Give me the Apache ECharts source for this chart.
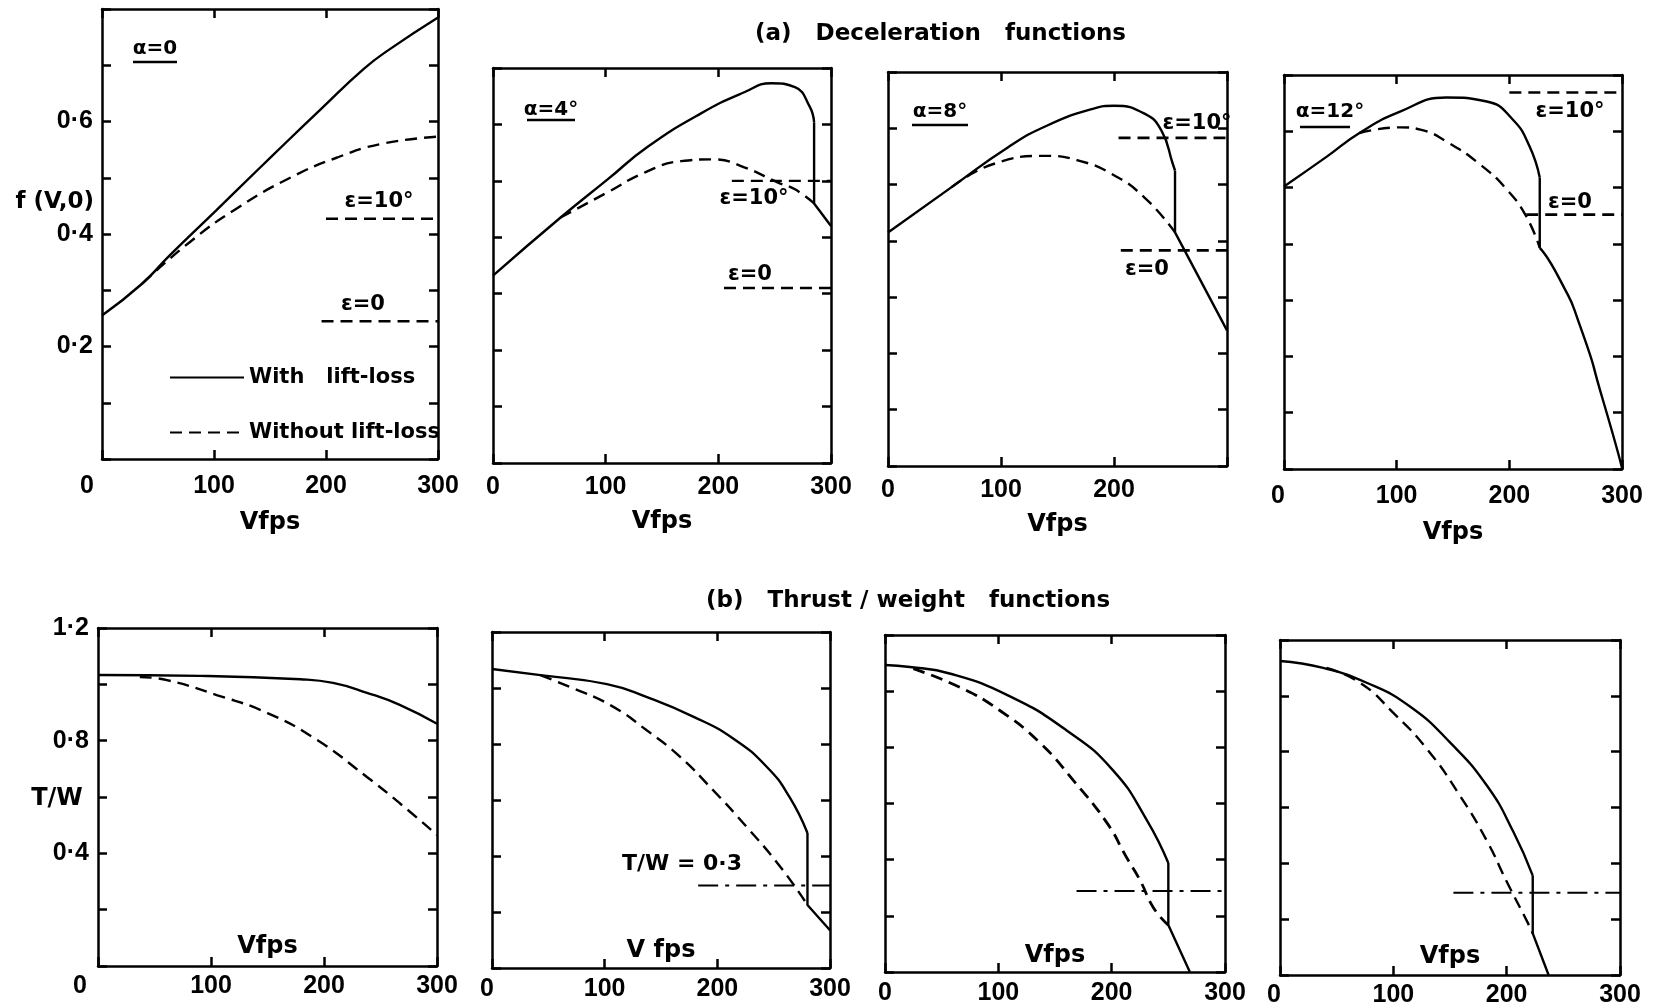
<!DOCTYPE html>
<html><head><meta charset="utf-8">
<script src="https://cdn.jsdelivr.net/npm/echarts@6/dist/echarts.min.js"></script>
<style>html,body{margin:0;padding:0;background:#fff}#c{width:1657px;height:1008px}</style>
</head><body><div id="c"></div>
<script>
// ---------------- data ----------------
// (a) Deceleration functions f(V,0) vs V (fps)
const a0Solid   = [[0,0.255],[36,0.312],[60,0.361],[102,0.442],[138,0.512],[165,0.564],[195,0.621],[234,0.694],[258,0.73],[300,0.785]];
const a0Dashed  = [[36,0.312],[78,0.385],[120,0.445],[168,0.50],[210,0.536],[249,0.56],[300,0.573]];
const a0Eps10   = [[200,0.427],[300,0.427]];
const a0Eps0    = [[196,0.245],[300,0.245]];

const a4Solid     = [[0,0.332],[60,0.435],[102,0.503],[137,0.56],[185,0.62],[223,0.657],[247,0.673],[268,0.666],[281,0.632],[285,0.604]];
const a4SolidTail = [[285,0.604],[285,0.46],[300,0.42]];
const a4Dashed    = [[60,0.435],[102,0.48],[135,0.515],[167,0.535],[196,0.538],[223,0.524],[253,0.497],[268,0.485],[285,0.46]];
const a4Eps10     = [[212,0.50],[300,0.50]];
const a4Eps0      = [[205,0.31],[300,0.31]];

const a8Solid     = [[0,0.415],[56,0.495],[106,0.566],[141,0.605],[182,0.635],[200,0.64],[227,0.626],[242,0.596],[252,0.537],[254,0.525]];
const a8SolidTail = [[254,0.525],[254,0.415],[300,0.241]];
const a8Dashed    = [[56,0.495],[94,0.537],[141,0.551],[168,0.543],[197,0.52],[227,0.477],[254,0.415]];
const a8Eps10     = [[204,0.583],[300,0.583]];
const a8Eps0      = [[206,0.383],[300,0.383]];

const a12Solid     = [[0,0.502],[38,0.555],[67,0.597],[103,0.635],[144,0.66],[180,0.653],[203,0.621],[218,0.573],[227,0.518]];
const a12SolidDrop = [[227,0.518],[227,0.393]];
const a12SolidTail = [[227,0.393],[245,0.336],[263,0.253],[283,0.123],[300,0.002]];
const a12Dashed    = [[67,0.597],[103,0.607],[121,0.603],[144,0.582],[174,0.541],[198,0.496],[215,0.449],[227,0.393]];
const a12Eps10     = [[200,0.669],[300,0.669]];
const a12Eps0      = [[215,0.452],[300,0.452]];

// (b) Thrust/weight functions T/W vs V (fps)
const tw0Solid  = [[0,1.033],[90,1.03],[179,1.018],[208,1.005],[238,0.97],[267,0.927],[300,0.86]];
const tw0Dashed = [[37,1.026],[61,1.015],[105,0.962],[150,0.898],[194,0.802],[238,0.671],[267,0.578],[300,0.465]];

const tw4Solid     = [[0,1.068],[43,1.046],[102,1.014],[137,0.968],[179,0.897],[214,0.82],[244,0.718],[264,0.611],[280,0.482]];
const tw4SolidTail = [[280,0.482],[280,0.225],[300,0.135]];
const tw4Dashed    = [[43,1.046],[69,1.004],[105,0.939],[137,0.85],[167,0.754],[196,0.636],[226,0.504],[256,0.361],[280,0.225]];
const tw4Limit     = [[183,0.295],[300,0.295]];

const tw8Solid     = [[0,1.093],[22,1.086],[57,1.063],[108,0.986],[160,0.861],[201,0.719],[231,0.541],[250,0.388]];
const tw8SolidTail = [[250,0.388],[250,0.167],[269,0]];
const tw8Dashed    = [[25,1.08],[66,1.014],[101,0.932],[137,0.815],[166,0.683],[196,0.53],[213,0.409],[225,0.327],[237,0.228],[250,0.167]];
const tw8Limit     = [[169,0.288],[300,0.288]];

const tw12Solid     = [[0,1.125],[38,1.1],[77,1.046],[115,0.961],[150,0.833],[183,0.676],[206,0.512],[223,0.356]];
const tw12SolidTail = [[223,0.356],[223,0.149],[237,0]];
const tw12Dashed    = [[41,1.1],[71,1.046],[100,0.939],[130,0.808],[159,0.641],[183,0.477],[200,0.335],[218,0.192],[223,0.149]];
const tw12Limit     = [[153,0.295],[300,0.295]];

// tick labels
const xTickValues      = [0, 100, 200, 300];
const xTickLabels      = ['0', '100', '200', '300'];
const xTickLabelsNo300 = ['0', '100', '200', ''];
const yTopValues       = [0.2, 0.4, 0.6];
const yTopLabels       = ['0·2', '0·4', '0·6'];
const yBotValues       = [0.4, 0.8, 1.2];
const yBotLabels       = ['0·4', '0·8', '1·2'];
const legendNames      = ['With lift-loss', 'Without lift-loss'];

// ---------------- layout ----------------
const FONT_NUM = '"Liberation Sans", Arial, sans-serif';
const FONT_TXT = '"DejaVu Sans", sans-serif';
const BLACK = '#000';
const DASH = [12, 7];
const DASHDOT = [20, 7, 4, 7];

const panels = [
  {box:[102,9,336,450],  ymax:0.8, yint:0.1, yv:yTopValues, yl:yTopLabels, xl:xTickLabels, zero:15, xm:15, name:'Vfps', ng:52},
  {box:[493,68,338,395], ymax:0.7, yint:0.1, yv:[], yl:[], xl:xTickLabels, zero:0, xm:12, name:'Vfps', ng:47},
  {box:[888,72,339,394], ymax:0.7, yint:0.1, yv:[], yl:[], xl:xTickLabelsNo300, zero:0, xm:12, name:'Vfps', ng:47},
  {box:[1284,75,338,394],ymax:0.7, yint:0.1, yv:[], yl:[], xl:xTickLabels, zero:6, xm:15, name:'Vfps', ng:52},
  {box:[98,628,339,338], ymax:1.2, yint:0.2, yv:yBotValues, yl:yBotLabels, xl:xTickLabels, zero:18, xm:8, name:'Vfps', ng:-31},
  {box:[492,632,338,336],ymax:1.2, yint:0.2, yv:[], yl:[], xl:xTickLabels, zero:5, xm:9, name:'V fps', ng:-29},
  {box:[885,635,340,337],ymax:1.2, yint:0.2, yv:[], yl:[], xl:xTickLabels, zero:0, xm:9, name:'Vfps', ng:-28},
  {box:[1280,640,340,337],ymax:1.2, yint:0.2, yv:[], yl:[], xl:xTickLabels, zero:6, xm:8, name:'Vfps', ng:-30}
];

const grids = [], xAxes = [], yAxes = [];
panels.forEach((p, i) => {
  grids.push({left:p.box[0], top:p.box[1], width:p.box[2], height:p.box[3], containLabel:false, show:false});
  const line = {show:true, onZero:false, lineStyle:{color:BLACK, width:2.5}};
  const tick = {show:true, inside:true, length:9, lineStyle:{color:BLACK, width:2.5}};
  xAxes.push({
    type:'value', gridIndex:i, position:'bottom', min:0, max:300, interval:100,
    axisLine:line, axisTick:tick, splitLine:{show:false},
    axisLabel:{show:true, margin:p.xm, color:BLACK, fontFamily:FONT_NUM, fontSize:25, fontWeight:'bold',
      formatter:(v) => {
        const k = xTickValues.indexOf(Math.round(v));
        const s = k >= 0 ? p.xl[k] : '';
        if (s === '0' && p.zero) return '{z|0}';
        return s;
      },
      rich:{z:{fontFamily:FONT_NUM, fontSize:25, fontWeight:'bold', color:BLACK, padding:[0, 2*p.zero, 0, 0]}}
    },
    name:p.name, nameLocation:'middle', nameGap:p.ng,
    nameTextStyle:{color:BLACK, fontFamily:FONT_TXT, fontSize:24, fontWeight:'bold'}
  });
  xAxes.push({
    type:'value', gridIndex:i, position:'top', min:0, max:300, interval:100,
    axisLine:line, axisTick:tick, splitLine:{show:false}, axisLabel:{show:false}
  });
  yAxes.push({
    type:'value', gridIndex:i, position:'left', min:0, max:p.ymax, interval:p.yint,
    axisLine:line, axisTick:tick, splitLine:{show:false},
    axisLabel:{show:true, margin:9, color:BLACK, fontFamily:FONT_NUM, fontSize:25, fontWeight:'bold',
      formatter:(v) => {
        const k = p.yv.findIndex(t => Math.abs(t - v) < 1e-6);
        return k >= 0 ? p.yl[k] : '';
      }
    }
  });
  yAxes.push({
    type:'value', gridIndex:i, position:'right', min:0, max:p.ymax, interval:p.yint,
    axisLine:line, axisTick:tick, splitLine:{show:false}, axisLabel:{show:false}
  });
});

function ser(gi, data, dash, name, smooth, w) {
  return {
    type:'line', name:name, xAxisIndex:gi*2, yAxisIndex:gi*2, data:data,
    symbol:'none', showSymbol:false, smooth:smooth ? (smooth === true ? 0.5 : smooth) : false,
    lineStyle:{color:BLACK, width:w || 2.4, type:dash || 'solid'},
    itemStyle:{color:BLACK}, silent:true, z:3
  };
}
const W = legendNames[0], WO = legendNames[1];
const series = [
  ser(0, a0Solid, null, W, true), ser(0, a0Dashed, DASH, WO, true),
  ser(0, a0Eps10, DASH, 'eps10'), ser(0, a0Eps0, DASH, 'eps0'),

  ser(1, a4Solid, null, W, true), ser(1, a4SolidTail, null, W), ser(1, a4Dashed, DASH, WO, true),
  ser(1, a4Eps10, DASH, 'eps10'), ser(1, a4Eps0, DASH, 'eps0'),

  ser(2, a8Solid, null, W, true), ser(2, a8SolidTail, null, W), ser(2, a8Dashed, DASH, WO, true),
  ser(2, a8Eps10, DASH, 'eps10', false, 2.8), ser(2, a8Eps0, DASH, 'eps0', false, 2.8),

  ser(3, a12Solid, null, W, true), ser(3, a12SolidDrop, null, W), ser(3, a12SolidTail, null, W, 0.7),
  ser(3, a12Dashed, DASH, WO, true),
  ser(3, a12Eps10, DASH, 'eps10'), ser(3, a12Eps0, DASH, 'eps0', false, 2.8),

  ser(4, tw0Solid, null, W, true), ser(4, tw0Dashed, DASH, WO, true),

  ser(5, tw4Solid, null, W, true), ser(5, tw4SolidTail, null, W), ser(5, tw4Dashed, DASH, WO, true),
  ser(5, tw4Limit, DASHDOT, 'limit', false, 2),

  ser(6, tw8Solid, null, W, true), ser(6, tw8SolidTail, null, W), ser(6, tw8Dashed, DASH, WO, true, 2.8),
  ser(6, tw8Limit, DASHDOT, 'limit', false, 2),

  ser(7, tw12Solid, null, W, true), ser(7, tw12SolidTail, null, W), ser(7, tw12Dashed, DASH, WO, true),
  ser(7, tw12Limit, DASHDOT, 'limit', false, 2)
];

// ---------------- annotations ----------------
function txt(t, x, y, size, align) {
  return {type:'text', x:x, y:y, silent:true, z:10,
    style:{text:t, fill:BLACK, font:'bold ' + (size || 21) + 'px "DejaVu Sans", sans-serif',
      textAlign:align || 'center', textVerticalAlign:'middle', align:align || 'center', verticalAlign:'middle'}};
}
function ul(x1, x2, y) {
  return {type:'line', silent:true, z:10, shape:{x1:x1, y1:y, x2:x2, y2:y}, style:{stroke:BLACK, lineWidth:2.5}};
}
const graphics = [
  txt('α=0', 155, 49, 20), ul(133, 177, 62),
  txt('ε=10°', 379, 202), txt('ε=0', 363, 305),
  txt('f (V,0)', 94, 202, 23, 'right'),
  txt('α=4°', 551, 110, 20), ul(527, 575, 120),
  txt('ε=10°', 754, 199), txt('ε=0', 750, 275),
  txt('α=8°', 940, 112, 20), ul(912, 968, 125),
  txt('ε=10°', 1197, 124), txt('ε=0', 1147, 270),
  txt('α=12°', 1330, 112, 20), ul(1300, 1350, 127),
  txt('ε=10°', 1570, 112), txt('ε=0', 1570, 203),
  txt('T/W', 57, 799, 24),
  txt('T/W = 0·3', 682, 864, 22)
];

const chart = echarts.init(document.getElementById('c'), null, {renderer:'canvas'});
chart.setOption({
  backgroundColor:'#fff',
  animation:false,
  title:[
    {text:'(a)   Deceleration   functions', left:755, top:23, padding:0,
      textStyle:{color:BLACK, fontFamily:FONT_TXT, fontSize:23, fontWeight:'bold'}},
    {text:'(b)   Thrust / weight   functions', left:706, top:590, padding:0,
      textStyle:{color:BLACK, fontFamily:FONT_TXT, fontSize:23, fontWeight:'bold'}}
  ],
  legend:{
    show:true, data:legendNames, orient:'vertical', left:169, top:367, padding:0,
    itemWidth:74, itemHeight:3, itemGap:34, selectedMode:false,
    itemStyle:{opacity:0},
    formatter:(n) => n === W ? 'With   lift-loss' : n,
    textStyle:{color:BLACK, fontFamily:FONT_TXT, fontSize:21, fontWeight:'bold'}
  },
  grid:grids, xAxis:xAxes, yAxis:yAxes, series:series, graphic:graphics
});
</script></body></html>
